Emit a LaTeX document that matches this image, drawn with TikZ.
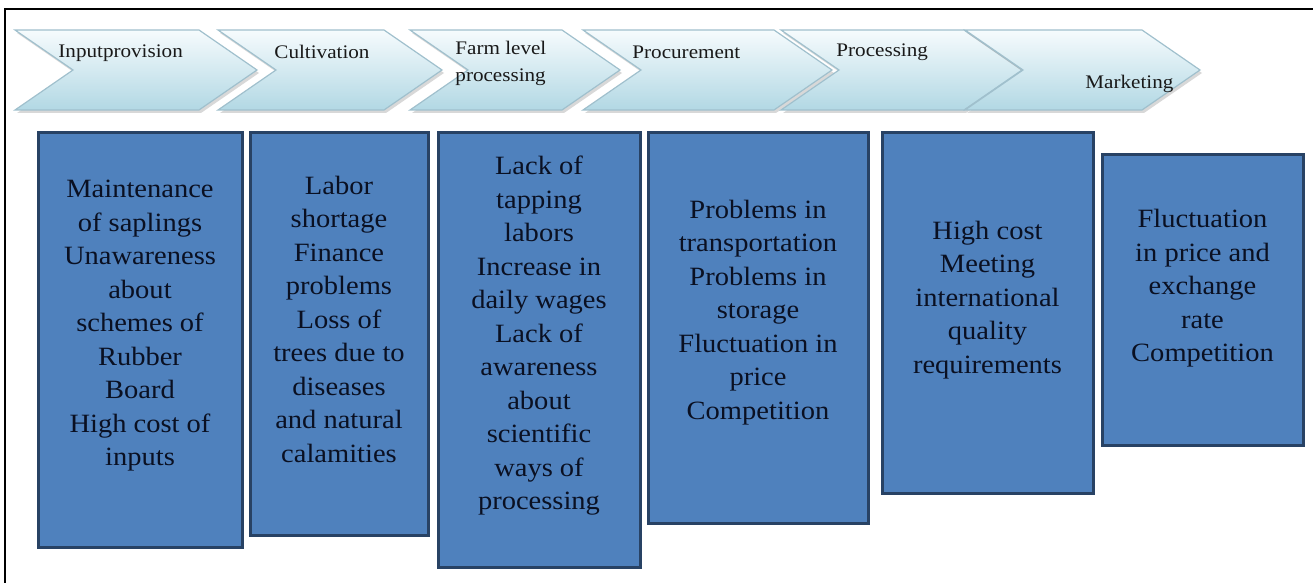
\documentclass[tikz,border=0pt]{standalone}
\usepackage{fontspec}
\setmainfont{Liberation Serif}
\usetikzlibrary{shadows}
\definecolor{stageTop}{RGB}{246,251,253}
\definecolor{stageBot}{RGB}{178,216,228}
\definecolor{stageLine}{RGB}{160,192,205}
\definecolor{issueFill}{RGB}{79,129,189}
\definecolor{issueLine}{RGB}{40,66,100}
\definecolor{issueText}{RGB}{10,16,34}
\tikzset{
  stage/.style={top color=stageTop, bottom color=stageBot, draw=stageLine, line width=0.6pt},
  stageshadow/.style={fill=gray!60, opacity=0.5},
  stagetext/.style={font=\fontsize{9.6pt}{13.5pt}\selectfont, text=black!90, inner sep=0pt, xscale=1.1, align=left, anchor=west},
  issue/.style={rectangle, fill=issueFill, draw=issueLine, line width=1.5pt, inner sep=0pt,
    drop shadow={shadow xshift=1pt, shadow yshift=-1pt, opacity=0.3}},
  issuetext/.style={font=\fontsize{13.2pt}{16.75pt}\selectfont, text=issueText, align=center, inner sep=0pt, xscale=1.08}
}
\begin{document}
\begin{tikzpicture}[x=0.5pt,y=-0.5pt]
\useasboundingbox (0,0) rectangle (1313,583);
%
\draw[line width=1.2pt] (5,583) -- (5,9) -- (1313,9);
%
\path[stageshadow] (17,33) -- (201,33) -- (259,73) -- (201,113) -- (17,113) -- (75,73) -- cycle;
\path[stage] (15,30) -- (199,30) -- (257,70) -- (199,110) -- (15,110) -- (73,70) -- cycle;
\path[stageshadow] (220,33) -- (386,33) -- (444,73) -- (386,113) -- (220,113) -- (278,73) -- cycle;
\path[stage] (218,30) -- (384,30) -- (442,70) -- (384,110) -- (218,110) -- (276,70) -- cycle;
\path[stageshadow] (412,33) -- (564,33) -- (622,73) -- (564,113) -- (412,113) -- (470,73) -- cycle;
\path[stage] (410,30) -- (562,30) -- (620,70) -- (562,110) -- (410,110) -- (468,70) -- cycle;
\path[stageshadow] (585,33) -- (776,33) -- (834,73) -- (776,113) -- (585,113) -- (643,73) -- cycle;
\path[stage] (583,30) -- (774,30) -- (832,70) -- (774,110) -- (583,110) -- (641,70) -- cycle;
\path[stageshadow] (783,33) -- (966,33) -- (1024,73) -- (966,113) -- (783,113) -- (841,73) -- cycle;
\path[stage] (781,30) -- (964,30) -- (1022,70) -- (964,110) -- (781,110) -- (839,70) -- cycle;
\path[stageshadow] (967,33) -- (1144,33) -- (1202,73) -- (1144,113) -- (967,113) -- (1025,73) -- cycle;
\path[stage] (965,30) -- (1142,30) -- (1200,70) -- (1142,110) -- (965,110) -- (1023,70) -- cycle;
%
\node [stagetext] (input) at (58,53) {Inputprovision};
\node [stagetext] (cultivation) at (274,52) {Cultivation};
\node [stagetext] (farm) at (455,63) {Farm level\\processing};
\node [stagetext] (procurement) at (632,52) {Procurement};
\node [stagetext] (processing) at (836,52) {Processing};
\node [stagetext] (marketing) at (1085,84) {Marketing};
%
\node [issue,minimum width=102pt,minimum height=207pt] (inputbox) at (140,340) {};
\node [issue,minimum width=89pt,minimum height=201pt] (cultivationbox) at (339,334) {};
\node [issue,minimum width=101pt,minimum height=217pt] (farmbox) at (539,350) {};
\node [issue,minimum width=110pt,minimum height=195pt] (procurementbox) at (758,328) {};
\node [issue,minimum width=105.5pt,minimum height=180pt] (processingbox) at (987.5,313) {};
\node [issue,minimum width=100.5pt,minimum height=145pt] (marketingbox) at (1202.5,300) {};
%
\node [issuetext] (inputtext) at (140,326) {Maintenance\\of saplings\\Unawareness\\about\\schemes of\\Rubber\\Board\\High cost of\\inputs};
\node [issuetext] (cultivationtext) at (339,319) {Labor\\shortage\\Finance\\problems\\Loss of\\trees due to\\diseases\\and natural\\calamities};
\node [issuetext] (farmtext) at (539,336) {Lack of\\tapping\\labors\\Increase in\\daily wages\\Lack of\\awareness\\about\\scientific\\ways of\\processing};
\node [issuetext] (procurementtext) at (758,312.5) {Problems in\\transportation\\Problems in\\storage\\Fluctuation in\\price\\Competition};
\node [issuetext] (processingtext) at (987.5,300) {High cost\\Meeting\\international\\quality\\requirements};
\node [issuetext] (marketingtext) at (1202.5,288.5) {Fluctuation\\in price and\\exchange\\rate\\Competition};
\end{tikzpicture}
\end{document}
